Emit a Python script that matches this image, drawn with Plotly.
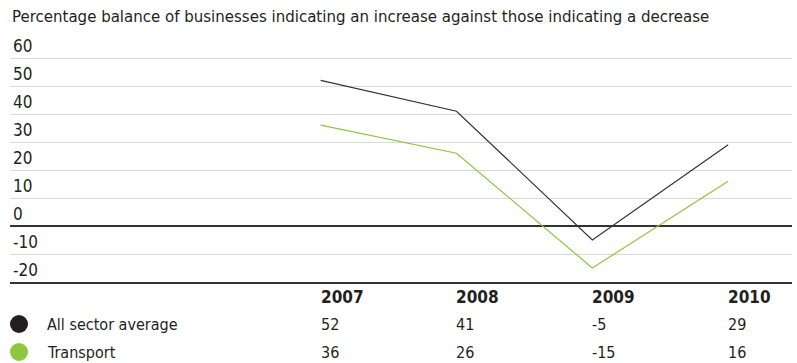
import plotly.graph_objects as go

years = [2007, 2008, 2009, 2010]
series_names = ["All sector average", "Transport"]
all_sector = [52, 41, -5, 29]
transport = [36, 26, -15, 16]
y_ticks = [-20, -10, 0, 10, 20, 30, 40, 50, 60, 70]
y_ticktext = ["-20", "-10", "0", "10", "20", "30", "40", "50", "60", ""]
title_text = "Figure 3: Activity prospects: Transport"
subtitle_text = "Percentage balance of businesses indicating an increase against those indicating a decrease"

FONT = "DejaVu Sans Condensed, Liberation Sans Narrow, Arial Narrow, sans-serif"
BLACK = "#231f20"
GREEN = "#8dc63f"

W, H = 797, 363
M_T, M_B, M_L, M_R = 30, 81, 10, 5
PLOT_H = H - M_T - M_B


def py(pix):
    # pixel row -> paper y
    return (H - M_B - pix) / PLOT_H


fig = go.Figure()
fig.add_trace(go.Scatter(x=years, y=all_sector, mode="lines", name=series_names[0],
                         line=dict(color="#333333", width=1.2), showlegend=False))
fig.add_trace(go.Scatter(x=years, y=transport, mode="lines", name=series_names[1],
                         line=dict(color=GREEN, width=1.2), showlegend=False))

ann = []
# title (clipped at top, as in the original) and subtitle
ann.append(dict(text="<b>" + title_text + "</b>", x=0, xref="paper", xanchor="left",
                y=py(-11), yref="paper", yanchor="middle", showarrow=False,
                font=dict(family=FONT, size=17, color=BLACK)))
ann.append(dict(text=subtitle_text, x=0, xref="paper", xanchor="left",
                y=py(16), yref="paper", yanchor="middle", showarrow=False,
                font=dict(family=FONT, size=16.7, color=BLACK)))
# table header
for yr in years:
    ann.append(dict(text="<b>%d</b>" % yr, x=yr, xref="x", xanchor="left", xshift=-2,
                    y=py(297), yref="paper", yanchor="middle", showarrow=False,
                    font=dict(family=FONT, size=17, color=BLACK)))
rows = [(series_names[0], all_sector, 324, BLACK), (series_names[1], transport, 352, GREEN)]
shapes = []
for name, vals, pix, col in rows:
    ann.append(dict(text=name, x=0, xref="paper", xanchor="left", xshift=35,
                    y=py(pix), yref="paper", yanchor="middle", showarrow=False,
                    font=dict(family=FONT, size=16, color=BLACK)))
    for yr, v in zip(years, vals):
        ann.append(dict(text=str(v), x=yr, xref="x", xanchor="left", xshift=-2,
                        y=py(pix), yref="paper", yanchor="middle", showarrow=False,
                        font=dict(family=FONT, size=16, color=BLACK)))
    shapes.append(dict(type="circle", xref="paper", yref="paper",
                       xsizemode="pixel", ysizemode="pixel",
                       xanchor=0, yanchor=py(pix),
                       x0=0, x1=18, y0=-9, y1=9,
                       fillcolor=col, line=dict(width=0)))

fig.update_layout(
    width=W, height=H,
    margin=dict(l=M_L, r=M_R, t=M_T, b=M_B),
    paper_bgcolor="white", plot_bgcolor="white",
    font=dict(family=FONT, size=16, color=BLACK),
    annotations=ann, shapes=shapes,
    xaxis=dict(range=[2004.713, 2010.47], showgrid=False, zeroline=False,
               showticklabels=False, showline=True, linecolor="#333333", linewidth=1.5,
               fixedrange=True),
    yaxis=dict(range=[-20, 70], tickvals=y_ticks, ticktext=y_ticktext,
               ticklabelposition="inside top", showgrid=True, gridcolor="#d9d9d9",
               gridwidth=1, zeroline=True, zerolinecolor="#333333", zerolinewidth=1.5,
               showline=False, ticks="", tickfont=dict(family=FONT, size=17, color=BLACK),
               fixedrange=True),
)

fig.write_html("out.html")
